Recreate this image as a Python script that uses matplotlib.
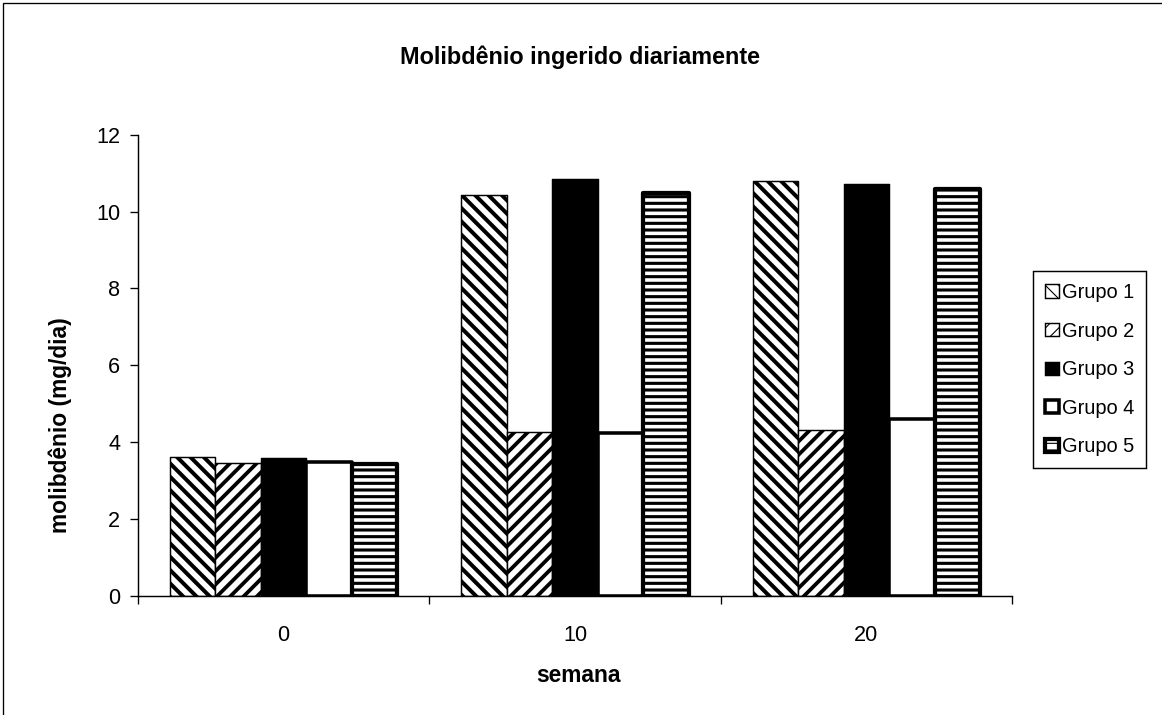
import matplotlib.pyplot as plt
import numpy as np
from matplotlib.patches import Rectangle

plt.rcParams['font.family'] = ['Liberation Sans', 'DejaVu Sans']

# dados
semanas = ['0', '10', '20']
grupos = ['Grupo 1', 'Grupo 2', 'Grupo 3', 'Grupo 4', 'Grupo 5']
grupo1 = [3.62, 10.43, 10.80]
grupo2 = [3.45, 4.26, 4.32]
grupo3 = [3.58, 10.86, 10.72]
grupo4 = [3.49, 4.23, 4.60]
grupo5 = [3.43, 10.49, 10.58]
valores = [grupo1, grupo2, grupo3, grupo4, grupo5]

# estilo de cada grupo: hatch, cor, espessura da borda, espessura do hatch
estilos = [
    ('\\\\', 'white', 1.3, 3.6),
    ('//', 'white', 1.3, 3.4),
    ('', 'black', 1.3, 1.0),
    ('', 'white', 3.2, 1.0),
    ('--', 'white', 3.8, 2.8),
]

DPI = 80
fig = plt.figure(figsize=(1162 / DPI, 715 / DPI), dpi=DPI)
ax = fig.add_axes([138 / 1162, 1 - 596 / 715, 874 / 1162, 461.3 / 715])

x = np.arange(len(semanas))
largura = 0.156

for i, (vals, nome, est) in enumerate(zip(valores, grupos, estilos)):
    hatch, cor, lw, hlw = est
    with plt.rc_context({'hatch.linewidth': hlw, 'hatch.color': 'black'}):
        barras = ax.bar(x + (i - 2) * largura, vals, width=largura,
                        color=cor, edgecolor='black', linewidth=lw,
                        hatch=hatch, label=nome, zorder=3)
    for b in barras:
        b.set_joinstyle('round')
        if hasattr(b, 'set_hatch_linewidth'):
            b.set_hatch_linewidth(hlw)

ax.set_xlim(-0.5, 2.5)
ax.set_ylim(0, 12)
ax.set_yticks(np.arange(0, 13, 2))
ax.set_xticks(x, semanas)
ax.set_xticks([-0.5, 0.5, 1.5, 2.5], minor=True)
ax.tick_params(axis='x', which='major', length=0, pad=26, labelsize=19.5)
ax.tick_params(axis='x', which='minor', length=7, width=1.2, direction='out')
ax.tick_params(axis='y', length=7, width=1.2, pad=9, labelsize=19.5)

for s in ['top', 'right']:
    ax.spines[s].set_visible(False)
for s in ['left', 'bottom']:
    ax.spines[s].set_linewidth(1.3)
    ax.spines[s].set_zorder(4)

fig.text(580 / 1162, 1 - 57 / 715, 'Molibdênio ingerido diariamente',
         ha='center', va='center', fontsize=21, fontweight='bold')
fig.text(578 / 1162, 1 - 675 / 715, 'semana',
         ha='center', va='center', fontsize=20.5, fontweight='bold')
fig.text(60 / 1162, 1 - 425 / 715, 'molibdênio (mg/dia)', rotation=90,
         ha='center', va='center', fontsize=20.5, fontweight='bold')

leg = ax.legend(loc='upper left', bbox_to_anchor=(1033 / 1162, 1 - 271 / 715),
                bbox_transform=fig.transFigure, fontsize=18,
                handlelength=0.7, handleheight=0.65, handletextpad=0.15,
                labelspacing=0.98, borderpad=0.6, borderaxespad=0,
                fancybox=False, framealpha=1)
leg.get_frame().set_edgecolor('black')
leg.get_frame().set_linewidth(1.3)

# moldura externa do grafico
fig.add_artist(Rectangle((3 / 1162, -0.1), 1.2, 1.1 - 3 / 715,
                         transform=fig.transFigure, fill=False,
                         edgecolor='black', linewidth=1.2))

fig.savefig('out.png', dpi=DPI)
